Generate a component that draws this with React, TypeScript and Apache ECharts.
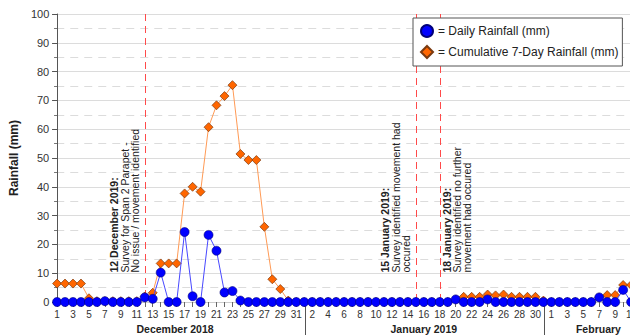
import React, { useEffect, useRef } from "react";
import * as echarts from "echarts";

// ---- categories: Dec 1 2018 .. Feb 11 2019 (one entry per day) ----
const monthLengths = [31, 31, 11];
const dayLabels: string[] = monthLengths.flatMap((n) => Array.from({ length: n }, (_, i) => String(i + 1)));

// ---- series values (mm) ----
const dailyRainfall = [
  // December 2018
  0, 0, 0, 0, 0, 0, 0.3, 0, 0, 0, 0, 1.6, 1.1, 10.2, 0, 0, 24.3, 2.0, 0, 23.3, 17.8, 3.3, 3.8, 0.5, 0, 0, 0, 0, 0, 0, 0,
  // January 2019
  0, 0, 0, 0, 0, 0, 0, 0, 0, 0, 0, 0, 0, 0, 0, 0, 0, 0, 0, 0.9, 0, 0, 0, 0.9, 0, 0, 0, 0, 0, 0, 0,
  // February 2019
  0, 0, 0, 0, 0, 0, 1.6, 0, 0, 4.2, 0,
];
const cumulative7Day = [
  // December 2018
  6.4, 6.4, 6.4, 6.4, 1.3, 0.3, 0.3, 0.3, 0.3, 0.3, 0.3, 1.9, 3.2, 13.4, 13.4, 13.4, 37.7, 40.0, 38.3, 60.7, 68.3, 71.5, 75.3, 51.4, 49.3, 49.3, 26.1, 7.9, 4.5, 0.5, 0,
  // January 2019
  0, 0, 0, 0, 0, 0, 0, 0, 0, 0, 0, 0, 0, 0, 0, 0, 0, 0, 0, 0.9, 1.8, 1.8, 1.8, 2.6, 2.3, 2.6, 1.8, 1.8, 1.8, 1.8, 0.5,
  // February 2019
  0, 0, 0, 0, 0, 0, 1.6, 2.4, 2.4, 5.9, 5.9,
];

// ---- tick labels / annotations ----
const labelIndices = dayLabels.map((_, i) => i).filter((i) => i % 2 === 0);
const tickIndices = dayLabels.map((_, i) => i);
const monthLabels = [
  { text: "December 2018", at: 14.8 },
  { text: "January 2019", at: 46 },
  { text: "February", at: 67.9 },
];
const monthDividers = [31.08, 61.08];
const surveyNotes = [
  { index: 11, side: -1, lines: ["12 December 2019:", "Survey for Span 2 Parapet -", "No issue / movement identified"] },
  { index: 45, side: -1, lines: ["15 January 2019:", "Survey identified movement had", "occured"] },
  { index: 48, side: 1, lines: ["18 January 2019:", "Survey identified no further", "movement had occured"] },
];

const FONT = 'Arial, "Liberation Sans", sans-serif';

export default function App() {
  const ref = useRef<HTMLDivElement>(null);
  useEffect(() => {
    if (!ref.current) return;
    const chart = echarts.init(ref.current, undefined, { renderer: "svg" });
    const xMin = -0.1;
    const xMax = 73;
    const gridLeft = 54;
    const gridWidth = (xMax - xMin) * 8.004;
    const legendBox = { left: 413, top: 18, right: 627, bottom: 66 };
    const option: any = {
      animation: false,
      textStyle: { fontFamily: FONT },
      grid: { left: gridLeft, top: 14, width: gridWidth, bottom: 33 },
      legend: {
        z: 20,
        left: legendBox.left,
        top: legendBox.top,
        orient: "vertical",
        padding: [6, 4, 7, 7],
        itemWidth: 12,
        itemHeight: 12,
        itemGap: 7,
        backgroundColor: "#fff",
        borderColor: "#555",
        borderWidth: 1,
        borderRadius: 0,
        textStyle: { fontSize: 12, color: "#222", fontFamily: FONT, lineHeight: 14 },
        formatter: (n: string) => "= " + n,
        data: [
          { name: "Daily Rainfall (mm)", icon: "circle" },
          { name: "Cumulative 7-Day Rainfall (mm)", icon: "diamond" },
        ],
      },
      xAxis: {
        type: "value",
        min: xMin,
        max: xMax,
        axisLine: { show: true, lineStyle: { color: "#ccc" } },
        axisTick: { show: true, customValues: tickIndices, length: 5, lineStyle: { color: "#666" } },
        axisLabel: {
          customValues: labelIndices,
          formatter: (v: number) => dayLabels[Math.round(v)] ?? "",
          fontSize: 10,
          color: "#333",
          margin: 7,
          fontFamily: FONT,
        },
        splitLine: { show: false },
      },
      yAxis: {
        type: "value",
        min: 0,
        max: 100,
        interval: 10,
        name: "Rainfall (mm)",
        nameLocation: "middle",
        nameGap: 28,
        nameTextStyle: { fontSize: 12, fontWeight: "bold", color: "#222", fontFamily: FONT },
        axisLine: { show: true, lineStyle: { color: "#555" } },
        axisTick: { show: true, length: 5, lineStyle: { color: "#555" } },
        minorTick: { show: true, splitNumber: 2, length: 3, lineStyle: { color: "#777" } },
        axisLabel: { fontSize: 11, color: "#333", margin: 7, fontFamily: FONT },
        splitLine: { show: true, lineStyle: { color: "#dcdcdc", width: 1 } },
        minorSplitLine: { show: true, lineStyle: { color: "#dcdcdc", width: 1, type: [8, 6] } },
      },
      series: [
        {
          name: "Cumulative 7-Day Rainfall (mm)",
          type: "line",
          z: 2,
          data: cumulative7Day.map((v, i) => [i, v]),
          symbol: "diamond",
          symbolSize: 9,
          lineStyle: { color: "#ff9a55", width: 1 },
          itemStyle: { color: "#ff6600", borderColor: "#7a3a10", borderWidth: 0.7 },
        },
        {
          name: "Daily Rainfall (mm)",
          type: "line",
          z: 3,
          data: dailyRainfall.map((v, i) => [i, v]),
          symbol: "circle",
          symbolSize: 9,
          lineStyle: { color: "#4848ff", width: 1 },
          itemStyle: { color: "#0000ff", borderColor: "#00007a", borderWidth: 0.6 },
        },
      ],
    };
    chart.setOption(option);

    const px = (i: number) => chart.convertToPixel({ xAxisIndex: 0 }, i) as number;
    const py = (v: number) => chart.convertToPixel({ yAxisIndex: 0 }, v) as number;
    const y0 = py(0);
    const yTop = py(100);
    const elements: any[] = [];
    const leftOffsets = [-30.5, -20, -9.5];
    const rightOffsets = [7.3, 17.5, 27.7];
    surveyNotes.forEach((n) => {
      const lx = px(n.index);
      const x = Math.round(lx) + 0.5;
      const segs: [number, number][] =
        x > legendBox.left && x < legendBox.right
          ? [[yTop, legendBox.top], [legendBox.bottom, y0]]
          : [[yTop, y0]];
      segs.forEach(([a, b]) => {
        elements.push({
          type: "line",
          silent: true,
          z: 1,
          shape: { x1: x, y1: a, x2: x, y2: b },
          style: { stroke: "#ff4a4a", lineWidth: 1, lineDash: [7, 5] },
        });
      });
      n.lines.forEach((line, k) => {
        const off = n.side < 0 ? leftOffsets[k] : rightOffsets[k];
        elements.push({
          type: "text",
          x: lx + off,
          y: y0 - 29.5,
          rotation: Math.PI / 2,
          silent: true,
          style: {
            text: line,
            font: (k === 0 ? "bold " : "") + "10.5px " + FONT,
            fill: "#222",
            textAlign: "left",
            textVerticalAlign: "middle",
            align: "left",
            verticalAlign: "middle",
          },
        });
      });
    });
    monthDividers.forEach((d) => {
      const x = Math.round(px(d)) + 0.5;
      elements.push({
        type: "line",
        silent: true,
        shape: { x1: x, y1: y0 + 1, x2: x, y2: 335 },
        style: { stroke: "#555", lineWidth: 1 },
      });
    });
    monthLabels.forEach((m) => {
      elements.push({
        type: "text",
        x: px(m.at),
        y: 329,
        silent: true,
        style: {
          text: m.text,
          font: "bold 10.5px " + FONT,
          fill: "#222",
          textAlign: "center",
          textVerticalAlign: "middle",
          align: "center",
          verticalAlign: "middle",
        },
      });
    });
    chart.setOption({ graphic: elements });
    return () => chart.dispose();
  }, []);
  return (
    <div style={{ position: "absolute", left: 0, top: 0, width: 630, height: 335, overflow: "hidden", background: "#fff" }}>
      <div ref={ref} style={{ width: 650, height: 335 }} />
    </div>
  );
}
